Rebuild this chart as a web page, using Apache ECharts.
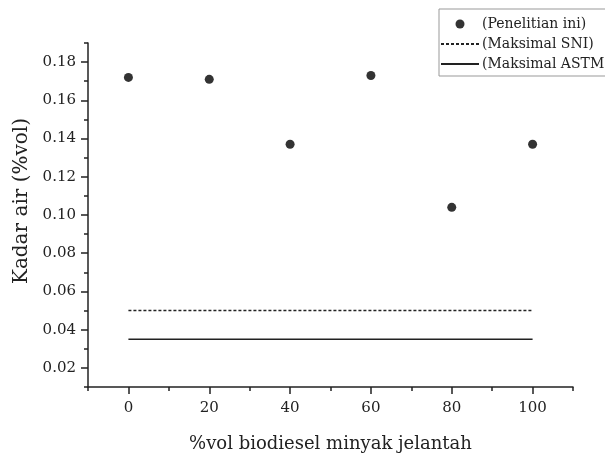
<!DOCTYPE html>
<html>
<head>
<meta charset="utf-8">
<script src="https://cdn.jsdelivr.net/npm/echarts@6/dist/echarts.min.js"></script>
<style>
  html, body { margin: 0; padding: 0; background: #fff; }
  #chart { width: 605px; height: 459px; }
</style>
</head>
<body>
<div id="chart"></div>
<script>
const volBiodiesel = [0, 20, 40, 60, 80, 100];
const kadarAir = [0.172, 0.171, 0.137, 0.173, 0.104, 0.137];
const maksSNI = [0.05, 0.05, 0.05, 0.05, 0.05, 0.05];
const maksASTM = [0.035, 0.035, 0.035, 0.035, 0.035, 0.035];
const xMajorTicks = [0, 20, 40, 60, 80, 100];
const yMajorTicks = [0.02, 0.04, 0.06, 0.08, 0.10, 0.12, 0.14, 0.16, 0.18];

const font = 'DejaVu Serif';
const ink = '#222';
const pair = (xs, ys) => xs.map((x, i) => [x, ys[i]]);

const chart = echarts.init(document.getElementById('chart'));

chart.setOption({
  animation: false,
  textStyle: { fontFamily: font, color: ink },
  grid: { left: 88, top: 43, right: 32, bottom: 72 },
  legend: {
    orient: 'vertical',
    left: 439, top: 9,
    padding: [8, 4, 5, 1],
    itemWidth: 38, itemHeight: 9, itemGap: 6,
    borderColor: '#999', borderWidth: 1,
    backgroundColor: '#fff',
    textStyle: { fontFamily: font, fontSize: 14, color: ink, padding: [0, 0, 0, -2] },
    data: [
      { name: '(Penelitian ini)' },
      { name: '(Maksimal SNI)', itemStyle: { opacity: 0 } },
      { name: '(Maksimal ASTM)', itemStyle: { opacity: 0 } }
    ]
  },
  xAxis: [
    {
      type: 'value', min: -10, max: 110, position: 'bottom',
      name: '%vol biodiesel minyak jelantah', nameLocation: 'middle', nameGap: 48,
      nameTextStyle: { fontFamily: font, fontSize: 18, color: ink },
      axisLine: { onZero: false, lineStyle: { color: ink, width: 1.5 } },
      axisTick: { customValues: xMajorTicks, length: 7, lineStyle: { color: ink, width: 1.5 } },
      axisLabel: { customValues: xMajorTicks, margin: 14, fontSize: 15, color: ink },
      splitLine: { show: false }
    },
    {
      type: 'value', min: -10, max: 110, interval: 10, position: 'bottom',
      axisLine: { show: false, onZero: false },
      axisTick: { length: 4, lineStyle: { color: ink, width: 1.5 } },
      axisLabel: { show: false },
      splitLine: { show: false }
    }
  ],
  yAxis: [
    {
      type: 'value', min: 0.01, max: 0.19, position: 'left',
      name: 'Kadar air (%vol)', nameLocation: 'middle', nameGap: 55,
      nameTextStyle: { fontFamily: font, fontSize: 20, color: ink, padding: [0, 0, 0, 28] },
      axisLine: { show: true, onZero: false, lineStyle: { color: ink, width: 1.5 } },
      axisTick: { show: true, customValues: yMajorTicks, length: 7, lineStyle: { color: ink, width: 1.5 } },
      axisLabel: { customValues: yMajorTicks, margin: 12, fontSize: 15, color: ink,
        formatter: v => v.toFixed(2) },
      splitLine: { show: false }
    },
    {
      type: 'value', min: 0.01, max: 0.19, interval: 0.01, position: 'left',
      axisLine: { show: false, onZero: false },
      axisTick: { show: true, length: 4, lineStyle: { color: ink, width: 1.5 } },
      axisLabel: { show: false },
      splitLine: { show: false }
    }
  ],
  series: [
    {
      name: '(Penelitian ini)', type: 'scatter',
      symbol: 'circle', symbolSize: 9,
      itemStyle: { color: '#000' },
      data: pair(volBiodiesel, kadarAir)
    },
    {
      name: '(Maksimal SNI)', type: 'line', symbol: 'none',
      lineStyle: { color: '#222', width: 1.5, type: [3, 2] },
      itemStyle: { color: '#222' },
      data: pair(volBiodiesel, maksSNI)
    },
    {
      name: '(Maksimal ASTM)', type: 'line', symbol: 'none',
      lineStyle: { color: '#222', width: 1.6 },
      itemStyle: { color: '#222' },
      data: pair(volBiodiesel, maksASTM)
    }
  ]
});
</script>
</body>
</html>
